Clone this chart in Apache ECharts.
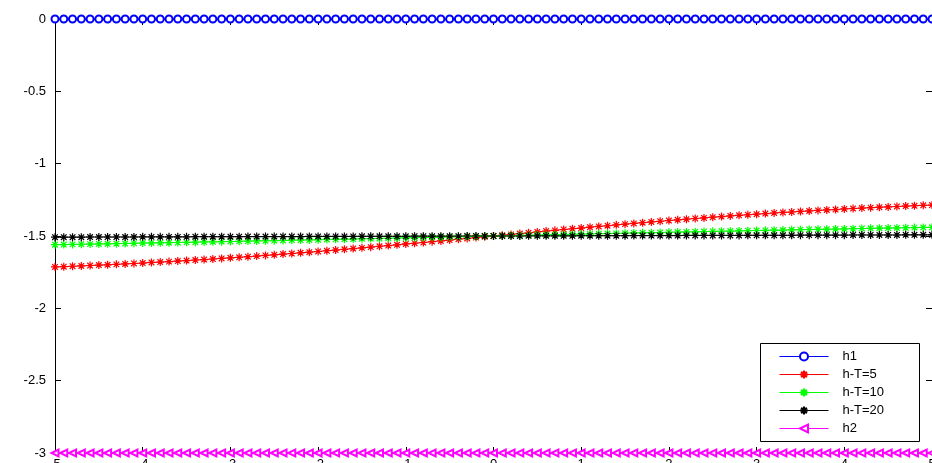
<!DOCTYPE html>
<html>
<head>
<meta charset="utf-8">
<script src="https://cdn.jsdelivr.net/npm/echarts@6/dist/echarts.min.js"></script>
<style>
html,body{margin:0;padding:0;background:#fff;}
#chart{width:932px;height:463px;}
</style>
</head>
<body>
<div id="chart"></div>
<script>
const xValues = [-5,-4.9,-4.8,-4.7,-4.6,-4.5,-4.4,-4.3,-4.2,-4.1,-4,-3.9,-3.8,-3.7,-3.6,-3.5,-3.4,-3.3,-3.2,-3.1,-3,-2.9,-2.8,-2.7,-2.6,-2.5,-2.4,-2.3,-2.2,-2.1,-2,-1.9,-1.8,-1.7,-1.6,-1.5,-1.4,-1.3,-1.2,-1.1,-1,-0.9,-0.8,-0.7,-0.6,-0.5,-0.4,-0.3,-0.2,-0.1,0,0.1,0.2,0.3,0.4,0.5,0.6,0.7,0.8,0.9,1,1.1,1.2,1.3,1.4,1.5,1.6,1.7,1.8,1.9,2,2.1,2.2,2.3,2.4,2.5,2.6,2.7,2.8,2.9,3,3.1,3.2,3.3,3.4,3.5,3.6,3.7,3.8,3.9,4,4.1,4.2,4.3,4.4,4.5,4.6,4.7,4.8,4.9,5];

const h1 = [0,0,0,0,0,0,0,0,0,0,0,0,0,0,0,0,0,0,0,0,0,0,0,0,0,0,0,0,0,0,0,0,0,0,0,0,0,0,0,0,0,0,0,0,0,0,0,0,0,0,0,0,0,0,0,0,0,0,0,0,0,0,0,0,0,0,0,0,0,0,0,0,0,0,0,0,0,0,0,0,0,0,0,0,0,0,0,0,0,0,0,0,0,0,0,0,0,0,0,0,0];

const hT5 = [-1.714,-1.712,-1.709,-1.707,-1.704,-1.701,-1.699,-1.696,-1.693,-1.690,-1.687,-1.683,-1.680,-1.677,-1.673,-1.670,-1.666,-1.663,-1.659,-1.655,-1.651,-1.647,-1.643,-1.639,-1.634,-1.630,-1.625,-1.621,-1.616,-1.612,-1.607,-1.602,-1.597,-1.592,-1.587,-1.582,-1.577,-1.571,-1.566,-1.561,-1.555,-1.550,-1.545,-1.539,-1.534,-1.528,-1.522,-1.517,-1.511,-1.506,-1.500,-1.494,-1.489,-1.483,-1.478,-1.472,-1.466,-1.461,-1.455,-1.450,-1.445,-1.439,-1.434,-1.429,-1.423,-1.418,-1.413,-1.408,-1.403,-1.398,-1.393,-1.388,-1.384,-1.379,-1.375,-1.370,-1.366,-1.361,-1.357,-1.353,-1.349,-1.345,-1.341,-1.337,-1.334,-1.330,-1.327,-1.323,-1.320,-1.317,-1.313,-1.310,-1.307,-1.304,-1.301,-1.299,-1.296,-1.293,-1.291,-1.288,-1.286];

const hT10 = [-1.560,-1.559,-1.558,-1.557,-1.556,-1.555,-1.554,-1.553,-1.552,-1.550,-1.549,-1.548,-1.547,-1.546,-1.545,-1.544,-1.543,-1.541,-1.540,-1.539,-1.538,-1.537,-1.535,-1.534,-1.533,-1.532,-1.531,-1.529,-1.528,-1.527,-1.526,-1.524,-1.523,-1.522,-1.521,-1.519,-1.518,-1.517,-1.516,-1.514,-1.513,-1.512,-1.510,-1.509,-1.508,-1.507,-1.505,-1.504,-1.503,-1.501,-1.500,-1.499,-1.497,-1.496,-1.495,-1.493,-1.492,-1.491,-1.490,-1.488,-1.487,-1.486,-1.484,-1.483,-1.482,-1.481,-1.479,-1.478,-1.477,-1.476,-1.474,-1.473,-1.472,-1.471,-1.469,-1.468,-1.467,-1.466,-1.465,-1.463,-1.462,-1.461,-1.460,-1.459,-1.457,-1.456,-1.455,-1.454,-1.453,-1.452,-1.451,-1.450,-1.448,-1.447,-1.446,-1.445,-1.444,-1.443,-1.442,-1.441,-1.440];

const hT20 = [-1.508,-1.508,-1.508,-1.508,-1.507,-1.507,-1.507,-1.507,-1.507,-1.507,-1.506,-1.506,-1.506,-1.506,-1.506,-1.506,-1.505,-1.505,-1.505,-1.505,-1.505,-1.505,-1.504,-1.504,-1.504,-1.504,-1.504,-1.504,-1.504,-1.503,-1.503,-1.503,-1.503,-1.503,-1.503,-1.502,-1.502,-1.502,-1.502,-1.502,-1.502,-1.501,-1.501,-1.501,-1.501,-1.501,-1.501,-1.500,-1.500,-1.500,-1.500,-1.500,-1.500,-1.500,-1.499,-1.499,-1.499,-1.499,-1.499,-1.499,-1.498,-1.498,-1.498,-1.498,-1.498,-1.498,-1.497,-1.497,-1.497,-1.497,-1.497,-1.497,-1.496,-1.496,-1.496,-1.496,-1.496,-1.496,-1.496,-1.495,-1.495,-1.495,-1.495,-1.495,-1.495,-1.494,-1.494,-1.494,-1.494,-1.494,-1.494,-1.493,-1.493,-1.493,-1.493,-1.493,-1.493,-1.492,-1.492,-1.492,-1.492];

const h2 = [-3,-3,-3,-3,-3,-3,-3,-3,-3,-3,-3,-3,-3,-3,-3,-3,-3,-3,-3,-3,-3,-3,-3,-3,-3,-3,-3,-3,-3,-3,-3,-3,-3,-3,-3,-3,-3,-3,-3,-3,-3,-3,-3,-3,-3,-3,-3,-3,-3,-3,-3,-3,-3,-3,-3,-3,-3,-3,-3,-3,-3,-3,-3,-3,-3,-3,-3,-3,-3,-3,-3,-3,-3,-3,-3,-3,-3,-3,-3,-3,-3,-3,-3,-3,-3,-3,-3,-3,-3,-3,-3,-3,-3,-3,-3,-3,-3,-3,-3,-3,-3];

const seriesNames = ['h1','h-T=5','h-T=10','h-T=20','h2'];

const FONT = '"Liberation Sans", Arial, Helvetica, sans-serif';
const ASTERISK = 'path://M0,5L10,5M5,0L5,10M1.5,1.5L8.5,8.5M8.5,1.5L1.5,8.5';

function pairs(ys){ return xValues.map((x,i)=>[x, ys[i]]); }

function mk(name, ys, color, symbol, size, extra){
  return Object.assign({
    name: name,
    type: 'line',
    data: pairs(ys),
    symbol: symbol,
    symbolSize: size,
    showSymbol: true,
    showAllSymbol: true,
    lineStyle: {color: color, width: 1},
    itemStyle: {color: color, borderColor: color, borderWidth: 1.2},
    emphasis: {disabled: true},
    silent: true,
    clip: false
  }, extra || {});
}

const chart = echarts.init(document.getElementById('chart'), null, {renderer: 'canvas'});

const axisCommon = {
  type: 'value',
  axisLine: {show: true, onZero: false, lineStyle: {color: '#000', width: 1}},
  axisTick: {show: true, inside: true, length: 6, lineStyle: {color: '#000'}},
  splitLine: {show: false}
};

chart.setOption({
  animation: false,
  backgroundColor: '#fff',
  textStyle: {fontFamily: FONT},
  grid: {left: 55, right: 0, top: 19, bottom: 10, containLabel: false, outerBoundsMode: 'none'},
  xAxis: [
    Object.assign({}, axisCommon, {
      min: -5, max: 5, interval: 1, position: 'bottom',
      axisLabel: {show: true, color: '#000', fontSize: 13, fontFamily: FONT, margin: 5}
    }),
    Object.assign({}, axisCommon, {
      min: -5, max: 5, interval: 1, position: 'top',
      axisLabel: {show: false}
    })
  ],
  yAxis: [
    Object.assign({}, axisCommon, {
      min: -3, max: 0, interval: 0.5, position: 'left',
      axisLabel: {show: true, color: '#000', fontSize: 13, fontFamily: FONT, margin: 9}
    }),
    Object.assign({}, axisCommon, {
      min: -3, max: 0, interval: 0.5, position: 'right',
      axisLabel: {show: false}
    })
  ],
  legend: {
    show: true,
    orient: 'vertical',
    left: 779,
    top: 350,
    padding: 0,
    itemGap: 5,
    itemWidth: 49,
    itemHeight: 10,
    z: 20,
    selectedMode: false,
    data: seriesNames,
    lineStyle: {width: 1},
    textStyle: {color: '#000', fontSize: 13, fontFamily: FONT, padding: [0,0,0,9]}
  },
  graphic: [{
    type: 'rect',
    z: 15,
    shape: {x: 760.5, y: 343.5, width: 159, height: 98},
    style: {fill: '#fff', stroke: '#000', lineWidth: 1}
  }],
  series: [
    mk(seriesNames[0], h1, '#0000ff', 'emptyCircle', 7),
    mk(seriesNames[1], hT5, '#ff0000', ASTERISK, 8),
    mk(seriesNames[2], hT10, '#00ff00', ASTERISK, 8),
    mk(seriesNames[3], hT20, '#000000', ASTERISK, 8),
    mk(seriesNames[4], h2, '#ff00ff', 'emptyTriangle', 7, {symbolRotate: 90})
  ]
});
</script>
</body>
</html>
